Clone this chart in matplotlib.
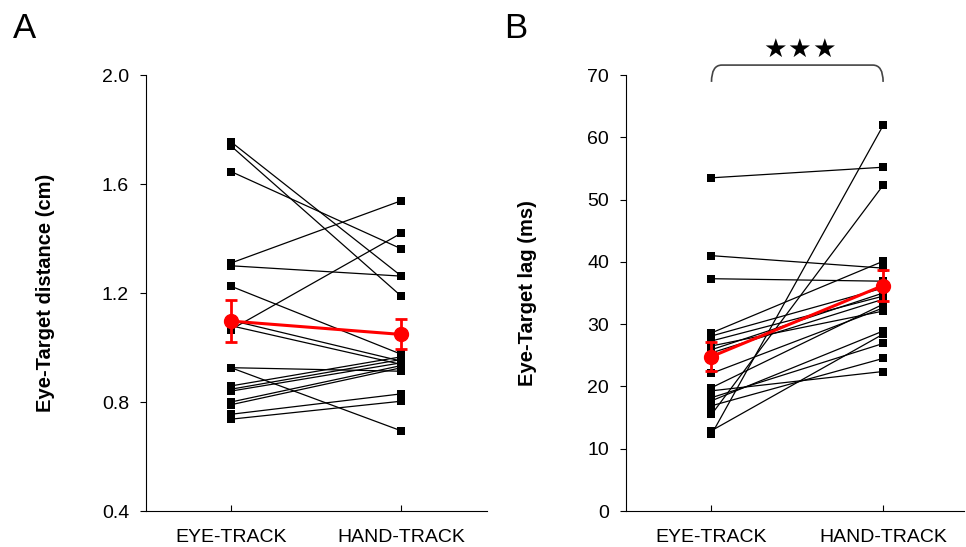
import matplotlib.pyplot as plt
from matplotlib.path import Path
from matplotlib.patches import PathPatch
import numpy as np

plt.rcParams['font.family'] = ['Liberation Sans', 'DejaVu Sans']

# Conditions
conditions = ['EYE-TRACK', 'HAND-TRACK']

# Panel A: eye-target distance (cm), per subject
dist_eye = [1.755, 1.74, 1.646, 1.31, 1.30, 1.225, 1.10, 1.08, 1.066,
            0.926, 0.926, 0.859, 0.847, 0.84, 0.80, 0.79, 0.755, 0.737]
dist_hand = [1.262, 1.188, 1.362, 1.539, 1.262, 0.975, 0.95, 0.938, 1.42,
             0.913, 0.694, 0.966, 0.956, 0.944, 0.934, 0.926, 0.83, 0.803]
dist_mean = [1.097, 1.048]
dist_err = [0.078, 0.055]

# Panel B: eye-target lag (ms), per subject
lag_eye = [53.5, 41.0, 37.3, 12.3, 12.9, 15.5, 16.9, 17.7, 18.2,
           19.3, 19.8, 22.1, 25.4, 25.9, 27.3, 28.1, 28.6, 26.5]
lag_hand = [55.2, 39.0, 36.9, 61.9, 28.4, 52.3, 24.5, 28.9, 26.9,
            22.4, 33.2, 32.6, 34.0, 35.0, 34.5, 35.8, 40.1, 32.1]
lag_mean = [24.8, 36.2]
lag_err = [2.3, 2.5]

fig = plt.figure(figsize=(9.66, 5.47), dpi=100)
axA = fig.add_axes([0.1508, 0.0658, 0.353, 0.797])
axB = fig.add_axes([0.6477, 0.0658, 0.350, 0.797])

x = np.arange(len(conditions))


def draw_panel(ax, eye, hand, mean, err):
    for a, b in zip(eye, hand):
        ax.plot(x, [a, b], color='black', linewidth=0.9, marker='s',
                markersize=5.8, markerfacecolor='black', markeredgewidth=0,
                zorder=2)
    ax.errorbar(x, mean, yerr=err, color='red', linewidth=2.2, marker='o',
                markersize=10, elinewidth=2, capsize=4, capthick=2, zorder=3)
    ax.spines['top'].set_visible(False)
    ax.spines['right'].set_visible(False)
    ax.spines['left'].set_linewidth(0.8)
    ax.spines['bottom'].set_linewidth(0.8)
    ax.set_xticks(x)
    ax.set_xticklabels(conditions, fontsize=14)
    ax.tick_params(axis='x', direction='in', length=4, width=0.8, pad=13)
    ax.tick_params(axis='y', direction='out', length=4, width=0.8,
                   labelsize=14, pad=8)


draw_panel(axA, dist_eye, dist_hand, dist_mean, dist_err)
axA.set_xlim(-0.5, 1.5)
axA.set_ylim(0.4, 2.0)
axA.set_yticks(np.arange(0.4, 2.01, 0.4))
axA.set_yticklabels([f'{v:.1f}' for v in np.arange(0.4, 2.01, 0.4)])
axA.set_ylabel('Eye-Target distance (cm)', fontsize=14.5, fontweight='bold',
               labelpad=34)

draw_panel(axB, lag_eye, lag_hand, lag_mean, lag_err)
axB.set_xlim(-0.5, 1.47)
axB.set_ylim(0, 70)
axB.set_yticks(np.arange(0, 71, 10))
axB.set_ylabel('Eye-Target lag (ms)', fontsize=14.5, fontweight='bold',
               labelpad=36)

# significance bracket
verts = [(0, 68.9), (0, 71.6), (0.06, 71.6), (0.94, 71.6), (1, 71.6), (1, 68.9)]
codes = [Path.MOVETO, Path.CURVE3, Path.CURVE3, Path.LINETO, Path.CURVE3, Path.CURVE3]
bracket = PathPatch(Path(verts, codes), facecolor='none', edgecolor='#444444',
                    linewidth=1.2, clip_on=False)
axB.add_patch(bracket)
for k in (-1, 0, 1):
    axB.text(0.512 + k * 0.143, 74.0, '★', ha='center', va='center',
             fontsize=19, family=['DejaVu Sans'], clip_on=False)

fig.text(0.013, 0.948, 'A', fontsize=25, ha='left', va='center')
fig.text(0.522, 0.948, 'B', fontsize=25, ha='left', va='center')

fig.savefig('out.png', dpi=100)
